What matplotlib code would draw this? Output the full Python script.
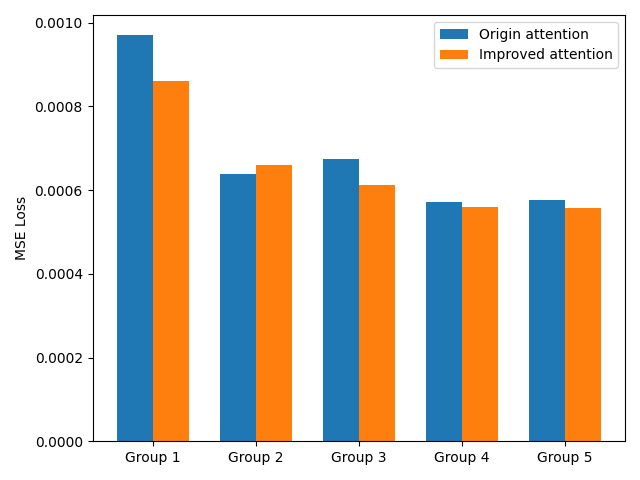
import matplotlib
matplotlib.use("Agg")
import matplotlib.pyplot as plt
import numpy as np

groups = ["Group 1", "Group 2", "Group 3", "Group 4", "Group 5"]
origin = [0.000970, 0.000639, 0.000675, 0.000572, 0.000577]
improved = [0.000860, 0.000660, 0.000613, 0.000560, 0.000558]

x = np.arange(len(groups))
width = 0.35

fig, ax = plt.subplots(figsize=(6.4, 4.8), dpi=100)
ax.bar(x - width / 2, origin, width, label="Origin attention")
ax.bar(x + width / 2, improved, width, label="Improved attention")
ax.set_ylabel("MSE Loss")
ax.set_xticks(x)
ax.set_xticklabels(groups)
ax.legend()
fig.tight_layout()
fig.savefig("out.png")
